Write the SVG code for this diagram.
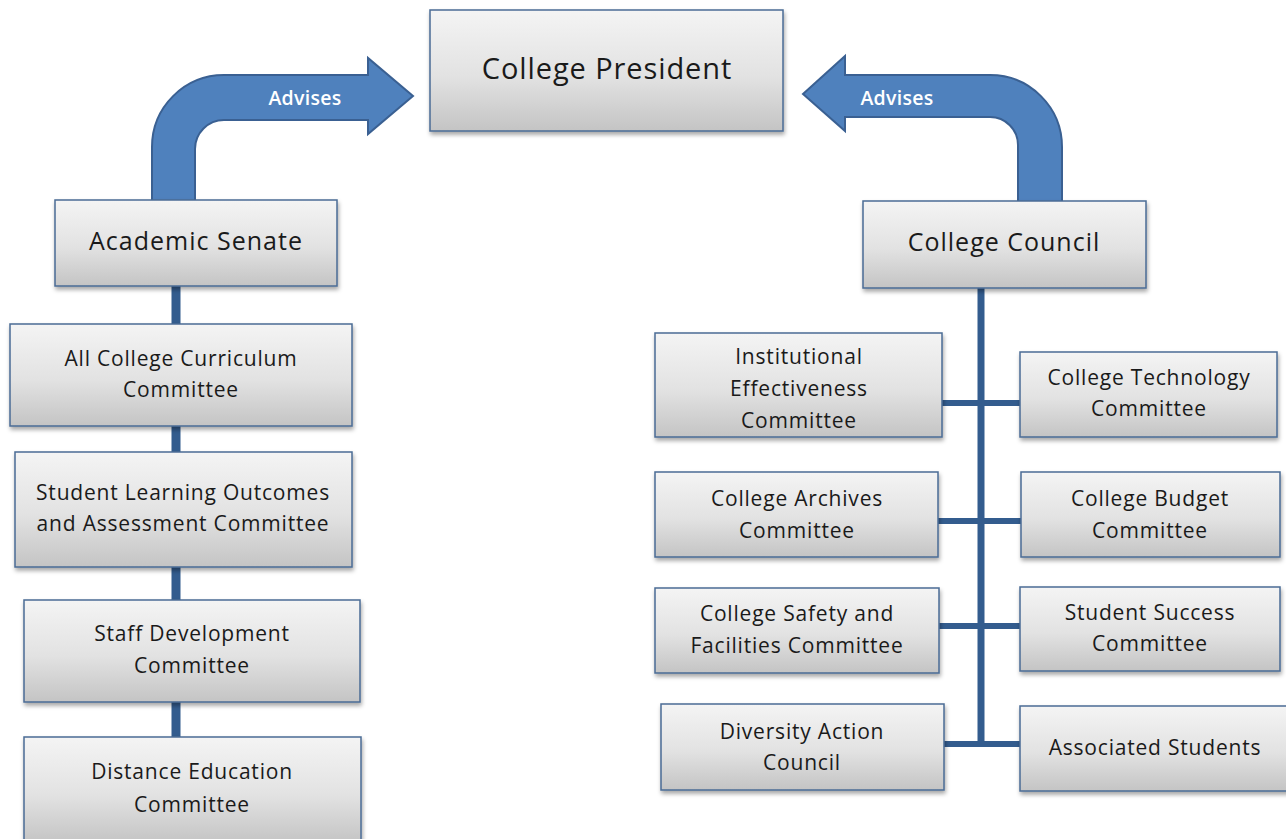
<svg xmlns="http://www.w3.org/2000/svg" width="1286" height="839" viewBox="0 0 1286 839">
<defs>
<linearGradient id="g" x1="0" y1="0" x2="0" y2="1">
<stop offset="0" stop-color="#f4f4f4"/>
<stop offset="0.55" stop-color="#e2e2e2"/>
<stop offset="1" stop-color="#c4c4c4"/>
</linearGradient>
<filter id="sh" x="-10%" y="-10%" width="120%" height="130%">
<feDropShadow dx="1" dy="3" stdDeviation="2" flood-color="#000" flood-opacity="0.35"/>
</filter>
</defs>
<style>
.box{fill:url(#g);stroke:#4a6b95;stroke-width:1.5;filter:url(#sh)}
.t{font-family:"Open Sans","Liberation Sans",sans-serif;fill:#1a1a1a;text-anchor:middle}
.s{font-size:21px;letter-spacing:0.8px}
.m{font-size:25px;letter-spacing:1px}
.l{font-size:29px;letter-spacing:0.9px}
.c{stroke:#335c8e;fill:none}
.arr{fill:#4f81bd;stroke:#3a6092;stroke-width:2}
.adv{font-family:"Open Sans","Liberation Sans",sans-serif;font-size:19.5px;letter-spacing:0.3px;font-weight:600;fill:#ffffff;text-anchor:middle}
</style>
<rect width="1286" height="839" fill="#ffffff"/>
<g id="connectors">
<line class="c" x1="176" y1="286" x2="176" y2="740" stroke-width="9"/>
<line class="c" x1="981" y1="288" x2="981" y2="747" stroke-width="7"/>
<line class="c" x1="942" y1="403" x2="1020" y2="403" stroke-width="6"/>
<line class="c" x1="938" y1="521" x2="1021" y2="521" stroke-width="6"/>
<line class="c" x1="939" y1="626" x2="1020" y2="626" stroke-width="6"/>
<line class="c" x1="944" y1="744" x2="1020" y2="744" stroke-width="6"/>
<g id="arrow-left">
<path class="arr" d="M152,201 L152,147 A72,72 0 0 1 224,75 L368,75 L368,58 L413,96 L368,134 L368,120 L224,120 A29,29 0 0 0 195,149 L195,201 Z"/>
<text class="adv" x="305" y="105">Advises</text>
</g>
<g id="arrow-right">
<path class="arr" d="M1062,202 L1062,147 A72,72 0 0 0 990,75 L845,75 L845,56 L803,94 L845,131 L845,117 L990,117 A28,28 0 0 1 1018,145 L1018,202 Z"/>
<text class="adv" x="897" y="105">Advises</text>
</g>
</g>
<g id="president"><rect class="box" x="430" y="10" width="353" height="121"/><text class="t l" x="607" y="79">College President</text></g>
<g id="academic-senate"><rect class="box" x="55" y="200" width="282" height="86"/><text class="t m" x="196" y="250">Academic Senate</text></g>
<g id="college-council"><rect class="box" x="863" y="201" width="283" height="87"/><text class="t m" x="1004" y="251">College Council</text></g>
<g id="curriculum"><rect class="box" x="10" y="324" width="342" height="102"/><text class="t s" x="181" y="366">All College Curriculum</text><text class="t s" x="181" y="397">Committee</text></g>
<g id="slo"><rect class="box" x="15" y="452" width="337" height="115"/><text class="t s" x="183" y="500">Student Learning Outcomes</text><text class="t s" x="183" y="531">and Assessment Committee</text></g>
<g id="staff-dev"><rect class="box" x="24" y="600" width="336" height="102"/><text class="t s" x="192" y="641">Staff Development</text><text class="t s" x="192" y="673">Committee</text></g>
<g id="distance-ed"><rect class="box" x="24" y="737" width="337" height="106"/><text class="t s" x="192" y="779">Distance Education</text><text class="t s" x="192" y="812">Committee</text></g>
<g id="institutional"><rect class="box" x="655" y="333" width="287" height="104"/><text class="t s" x="799" y="364">Institutional</text><text class="t s" x="799" y="396">Effectiveness</text><text class="t s" x="799" y="428">Committee</text></g>
<g id="technology"><rect class="box" x="1020" y="352" width="257" height="85"/><text class="t s" x="1149" y="385">College Technology</text><text class="t s" x="1149" y="416">Committee</text></g>
<g id="archives"><rect class="box" x="655" y="472" width="283" height="85"/><text class="t s" x="797" y="506">College Archives</text><text class="t s" x="797" y="538">Committee</text></g>
<g id="budget"><rect class="box" x="1021" y="472" width="259" height="85"/><text class="t s" x="1150" y="506">College Budget</text><text class="t s" x="1150" y="538">Committee</text></g>
<g id="safety"><rect class="box" x="655" y="588" width="284" height="85"/><text class="t s" x="797" y="621">College Safety and</text><text class="t s" x="797" y="653">Facilities Committee</text></g>
<g id="student-success"><rect class="box" x="1020" y="587" width="260" height="84"/><text class="t s" x="1150" y="620">Student Success</text><text class="t s" x="1150" y="651">Committee</text></g>
<g id="diversity"><rect class="box" x="661" y="704" width="283" height="86"/><text class="t s" x="802" y="739">Diversity Action</text><text class="t s" x="802" y="770">Council</text></g>
<g id="associated"><rect class="box" x="1020" y="706" width="270" height="85"/><text class="t s" x="1155" y="755">Associated Students</text></g>
</svg>
